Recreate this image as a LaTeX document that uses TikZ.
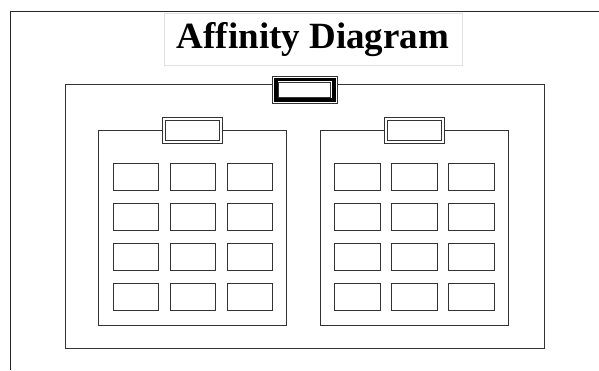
\documentclass[tikz,border=0pt]{standalone}
\usepackage{fontspec}
\setmainfont{Liberation Serif}
\usetikzlibrary{positioning}

\begin{document}
\begin{tikzpicture}[x=1pt,y=-1pt,
        frame/.style={draw=black!85,line width=1pt},
        box/.style={draw=black!80,line width=0.8pt,inner sep=0pt},
        card/.style={box,fill=white,minimum width=45.3pt,minimum height=27pt},
        header/.style={box,fill=white,double,double distance=2.2pt,
                       minimum width=57.2pt,minimum height=23.4pt}]
      \useasboundingbox (0,0) rectangle (599,370);
      % page frame (top and left edges only)
      \coordinate (frameTR) at (599,11);
      \coordinate (frameTL) at (10.5,11);
      \coordinate (frameBL) at (10.5,370);
      \draw[frame] (frameTR) -- (frameTL) -- (frameBL);
      % title
      \node[draw=black!12,line width=0.6pt,minimum width=298pt,minimum height=52.5pt,
            inner sep=0pt] (title) at (313,39.3)
            {\fontsize{37}{40}\selectfont\bfseries Affinity Diagram};
      % main box with its header
      \node[box,minimum width=479.3pt,minimum height=264pt] (main) at (304.7,216) {};
      \node[box,fill=white,minimum width=65pt,minimum height=27.3pt] (mainhead) at (304.8,89.7) {};
      \node[draw=black,line width=3.6pt,inner sep=0pt,minimum width=58pt,minimum height=20.5pt] (mainband) at (mainhead) {};
      \node[box,fill=white,minimum width=52pt,minimum height=15.6pt] (maininner) at (mainhead) {};
      % groups of cards
      \foreach \gx/\g in {192.7/L,414.3/R} {
        \node[box,minimum width=188.3pt,minimum height=195.3pt] (group\g) at (\gx,227.7) {};
        \node[header] (head\g) at (\gx,130.3) {};
        \foreach \c/\dx in {1/-57,2/0,3/57} {
          \foreach \r/\y in {1/177.2,2/217,3/256.8,4/296.8} {
            \node[card] (card\g\r\c) at (\gx+\dx,\y) {};
          }
        }
      }
    \end{tikzpicture}
\end{document}
